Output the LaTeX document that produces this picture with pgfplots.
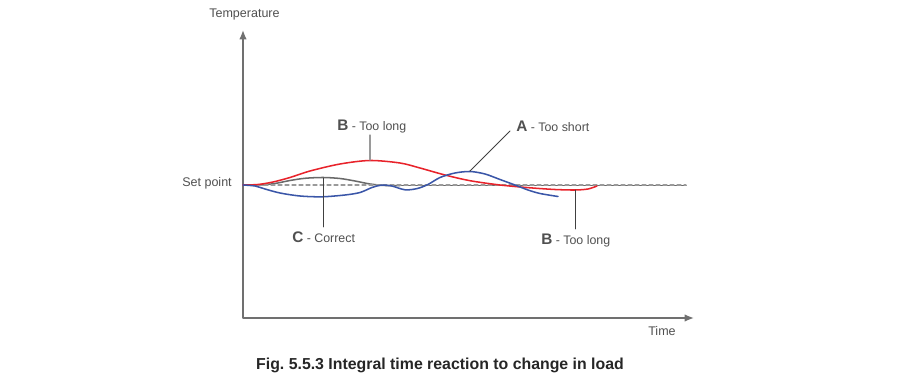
\documentclass[border=0pt]{standalone}
\usepackage{pgfplots}
\pgfplotsset{compat=1.18}
\usepackage{fontspec}
\setmainfont{Liberation Sans}
\usetikzlibrary{arrows.meta}
\frenchspacing
\definecolor{cred}{HTML}{E8232B}
\definecolor{cblue}{HTML}{3A56A8}
\definecolor{cgray}{HTML}{6A6A6A}
\definecolor{caxis}{HTML}{707070}
\definecolor{ctext}{HTML}{505050}
\definecolor{cdash}{HTML}{9A9A9A}
\newcommand{\lab}[2]{{\fontsize{11.5}{13}\selectfont\bfseries #1}{\fontsize{9.3}{11}\selectfont{} - #2}}
\begin{document}
\begin{tikzpicture}
\begin{axis}[scale only axis, width=675pt, height=293.25pt,
  xmin=0, xmax=900, ymin=0, ymax=391, y dir=reverse,
  hide axis, clip=false,
  every axis plot/.append style={line join=round, line cap=round}]
% frame for bounding box (invisible)
\addplot[draw=none] coordinates {(0,0) (900,391)};
% axes
\addplot[caxis, line width=1pt, {Latex[length=7pt,width=5.5pt]}-{Latex[length=7pt,width=5.5pt]}] coordinates {(243,30) (243,318) (694,318)};
% C - correct (gray)
\addplot[cgray, line width=1.15pt, smooth] coordinates {(243,185) (260,185) (275,183.5) (290,180.5) (305,178.3) (323,177.5) (340,178.5) (355,181) (370,184) (385,185.5) (400,185.6)};
\addplot[cgray, line width=1.15pt] coordinates {(400,185.6) (686,185.6)};
% set point dashed
\addplot[cdash, line width=0.9pt, dash pattern=on 3pt off 2.25pt] coordinates {(243,185) (686,185)};
% B - too long (red)
\addplot[cred, line width=1.15pt, smooth] coordinates {(243,185) (258,184.5) (273,182) (290,177.5) (310,171) (340,164) (370,160.5) (400,163) (420,168) (445,175) (470,180.7) (500,185) (530,187.8) (555,189.5) (575,190) (588,189) (597,186)};
% A - too short (blue)
\addplot[cblue, line width=1.15pt, smooth] coordinates {(243,185) (255,186) (265,189) (280,193) (300,196) (322,196.8) (345,195) (360,192.5) (372,187.5) (381,185.2) (391,185.8) (405,189.8) (417,188.6) (428,184.5) (440,177.5) (455,173) (470,171.5) (485,174) (500,179.5) (515,185) (528,190) (540,193.5) (558,196.5)};
% leader lines
\addplot[cdash, line width=0.9pt] coordinates {(370,135) (370,160)};
\addplot[black!75, line width=0.55pt] coordinates {(470,171) (510,131)};
\addplot[black!75, line width=0.6pt] coordinates {(323,178) (323,227)};
\addplot[black!75, line width=0.6pt] coordinates {(575,190) (575,229)};
% texts
\node[anchor=base west, text=ctext, font=\fontsize{9.4}{11}\selectfont, inner sep=0pt] at (axis cs:209,18) {Temperature};
\node[anchor=east, text=ctext, font=\fontsize{9.4}{11}\selectfont, inner sep=0pt] at (axis cs:232,183) {Set point};
\node[anchor=base west, text=ctext, font=\fontsize{9.4}{11}\selectfont, inner sep=0pt] at (axis cs:648,336) {Time};
\node[anchor=base, text=black!85, font=\fontsize{11.9}{14}\selectfont\bfseries, inner sep=0pt] at (axis cs:440,370) {Fig.\ 5.5.3 Integral time reaction to change in load};
\node[anchor=base west, text=ctext, inner sep=0pt] at (axis cs:337,131) {\lab{B}{Too long}};
\node[anchor=base west, text=ctext, inner sep=0pt] at (axis cs:516,132) {\lab{A}{Too short}};
\node[anchor=base west, text=ctext, inner sep=0pt] at (axis cs:292,243) {\lab{C}{Correct}};
\node[anchor=base west, text=ctext, inner sep=0pt] at (axis cs:541,245) {\lab{B}{Too long}};
\end{axis}
\end{tikzpicture}
\end{document}
